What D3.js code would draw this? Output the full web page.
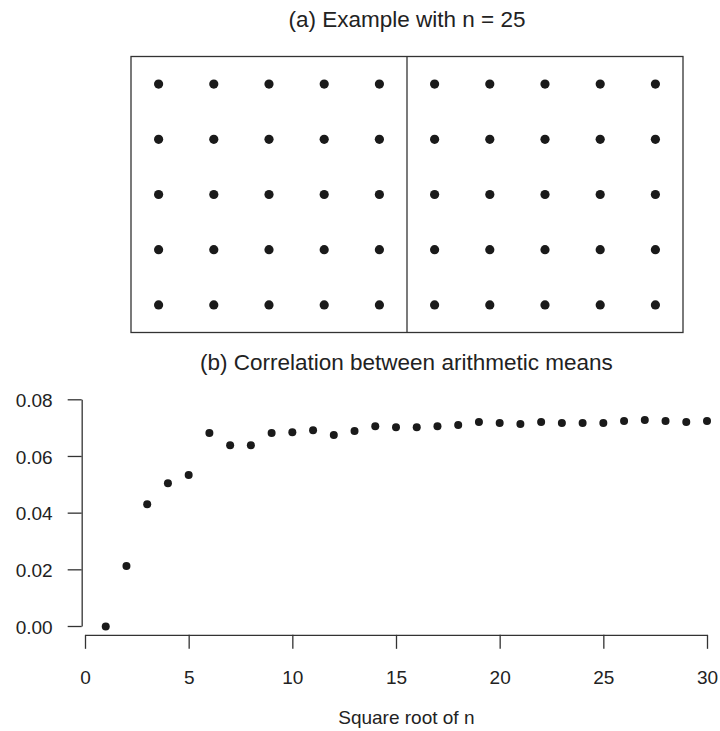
<!DOCTYPE html>
<html>
<head>
<meta charset="utf-8">
<script src="https://d3js.org/d3.v7.min.js"></script>
<title>Correlation between arithmetic means</title>
</head>
<style>
body {
  margin: 0;
  background: #fff;
}
svg {
  display: block;
  font-family: "Liberation Sans", Arial, sans-serif;
}
</style>
<body>
<svg width="720" height="731"></svg>
</body>
<script>

// panel (a): 10 x 5 grid of sites, split in two halves
let gridCols = d3.range(1, 11);
let gridRows = d3.range(1, 6);

// panel (b): correlation vs square root of n
let sqrtN = d3.range(1, 31);
let corr = [
  -0.0002, 0.0212, 0.0430, 0.0504, 0.0533, 0.0681, 0.0638, 0.0638, 0.0681, 0.0684,
  0.0691, 0.0674, 0.0688, 0.0705, 0.0701, 0.0701, 0.0705, 0.0709, 0.0720, 0.0716,
  0.0713, 0.0720, 0.0716, 0.0716, 0.0716, 0.0723, 0.0727, 0.0723, 0.0720, 0.0723
];
let xTicks = [0, 5, 10, 15, 20, 25, 30];
let yTicks = [0, 0.02, 0.04, 0.06, 0.08];

let svg = d3.select("svg");
let ink = "#1a1a1a";
let lineCol = "#333";

function drawPanelA() {
  let x = d3.scaleLinear().domain([0.5, 10.5]).range([131, 683]);
  let y = d3.scaleLinear().domain([0.5, 5.5]).range([332.5, 56.5]);

  svg.append("text")
    .attr("x", x(5.5))
    .attr("y", 27)
    .attr("text-anchor", "middle")
    .attr("font-size", 22.5)
    .attr("fill", "#222")
    .text("(a) Example with n = 25");

  svg.append("rect")
    .attr("x", x(0.5))
    .attr("y", y(5.5))
    .attr("width", x(10.5) - x(0.5))
    .attr("height", y(0.5) - y(5.5))
    .attr("fill", "none")
    .attr("stroke", lineCol)
    .attr("stroke-width", 1.3);

  // split between the two halves
  svg.append("line")
    .attr("x1", x(5.5)).attr("x2", x(5.5))
    .attr("y1", y(5.5)).attr("y2", y(0.5))
    .attr("stroke", lineCol)
    .attr("stroke-width", 1.3);

  let cells = [];
  gridCols.forEach(c => gridRows.forEach(r => cells.push([c, r])));

  svg.append("g").selectAll("circle")
    .data(cells)
    .enter().append("circle")
      .attr("cx", d => x(d[0]))
      .attr("cy", d => y(d[1]))
      .attr("r", 4.6)
      .attr("fill", ink);
}

function drawPanelB() {
  let x = d3.scaleLinear().domain([0, 30]).range([85, 707]);
  let y = d3.scaleLinear().domain([0, 0.08]).range([626, 399.3]);

  // R style plot region: data range padded by 4% on each side
  let xPad = (d3.max(sqrtN) - d3.min(sqrtN)) * 0.04;
  let yPad = (d3.max(corr) - d3.min(corr)) * 0.04;
  let plotLeft = x(d3.min(sqrtN) - xPad);
  let plotRight = x(d3.max(sqrtN) + xPad);
  let plotBottom = y(d3.min(corr) - yPad);
  let midX = (plotLeft + plotRight) / 2;

  svg.append("text")
    .attr("x", midX)
    .attr("y", 370)
    .attr("text-anchor", "middle")
    .attr("font-size", 22.5)
    .attr("fill", "#222")
    .text("(b) Correlation between arithmetic means");

  let xAxis = d3.axisBottom(x)
    .tickValues(xTicks)
    .tickSize(14)
    .tickSizeOuter(0)
    .tickPadding(22)
    .tickFormat(d3.format("d"));

  let gx = svg.append("g")
    .attr("transform", "translate(0," + plotBottom + ")")
    .call(xAxis);

  let yAxis = d3.axisLeft(y)
    .tickValues(yTicks)
    .tickSize(14)
    .tickSizeOuter(0)
    .tickPadding(15)
    .tickFormat(d3.format(".2f"));

  let gy = svg.append("g")
    .attr("transform", "translate(" + plotLeft + ",0)")
    .call(yAxis);

  [gx, gy].forEach(g => {
    g.select(".domain").attr("stroke", lineCol).attr("stroke-width", 1.3);
    g.selectAll(".tick line").attr("stroke", lineCol).attr("stroke-width", 1.3);
    g.selectAll(".tick text")
      .attr("fill", "#222")
      .attr("font-size", 19)
      .attr("font-family", "Liberation Sans, Arial, sans-serif");
  });
  gy.selectAll(".tick text").attr("dy", "0.38em");

  svg.append("text")
    .attr("x", midX)
    .attr("y", 724)
    .attr("text-anchor", "middle")
    .attr("font-size", 19)
    .attr("fill", "#222")
    .text("Square root of n");

  svg.append("g").selectAll("circle")
    .data(sqrtN)
    .enter().append("circle")
      .attr("cx", d => x(d))
      .attr("cy", (d, i) => y(corr[i]))
      .attr("r", 4)
      .attr("fill", ink);
}

drawPanelA();
drawPanelB();

</script>
</html>
